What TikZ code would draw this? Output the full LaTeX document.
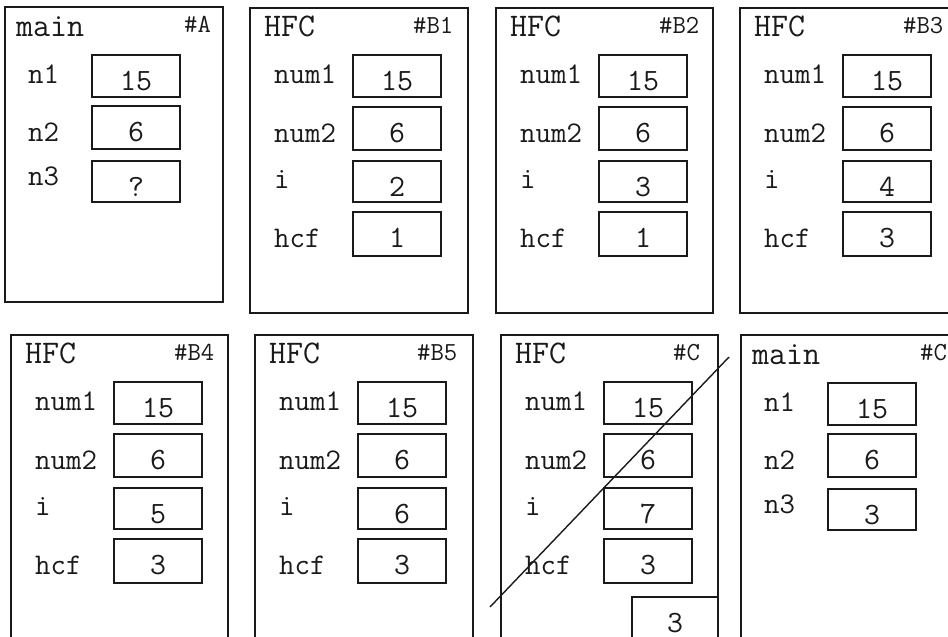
\documentclass[tikz,border=0pt]{standalone}
\usepackage{fontspec}
\definecolor{ink}{HTML}{1A1A1A}
\tikzset{
  framel/.style={draw=ink, line width=1.6pt},
  cell/.style={draw=ink, line width=1.5pt, anchor=north west, minimum width=88pt,
               inner sep=0pt, outer sep=0pt},
  head/.style={anchor=base west, inner sep=0pt, text=ink, font=\fontsize{33}{33}\selectfont\ttfamily},
  tag/.style={anchor=base west, inner sep=0pt, text=ink, font=\fontsize{26}{26}\selectfont\ttfamily},
  lbl/.style={anchor=base west, inner sep=0pt, text=ink, font=\fontsize{30}{30}\selectfont\ttfamily},
  val/.style={anchor=base, inner sep=0pt, text=ink, font=\fontsize{31}{31}\selectfont\ttfamily},
}
% one variable: name, label x, box x, box top, box height, label, label baseline offset, value
\newcommand\varcell[8]{%
  \node[cell, minimum height=#5pt] (#1) at (#3,#4) {};
  \node[lbl] (#1-l) at (#2,#4+#7) {#6};
  \node[val] (#1-v) at ([yshift=-35pt]#1.north) {#8};
}
% an HFC stack frame: id, left, top, right, bottom, tag, tag x, i, hcf
\newcommand\hfcframe[9]{%
  \draw[framel] (#2,#3) rectangle (#4,#5);
  \node[head] (#1-h) at (#2+14,#3+28) {HFC};
  \node[tag] (#1-t) at (#7,#3+25) {#6};
  \varcell{#1-a}{#2+24}{#2+103}{#3+47}{42}{num1}{28}{15}
  \varcell{#1-b}{#2+24}{#2+103}{#3+99}{43}{num2}{35}{6}
  \varcell{#1-c}{#2+24}{#2+103}{#3+153}{41}{i}{27}{#8}
  \varcell{#1-d}{#2+24}{#2+103}{#3+204}{44}{hcf}{35}{#9}
}
% a main frame: id, left, top, right, bottom, tag, tag x, n3
\newcommand\mainframe[8]{%
  \draw[framel] (#2,#3) rectangle (#4,#5);
  \node[head] (#1-h) at (#2+11,#3+29) {main};
  \node[tag] (#1-t) at (#7,#3+25) {#6};
  \varcell{#1-a}{#2+23}{#2+87}{#3+48}{42}{n1}{28}{15}
  \varcell{#1-b}{#2+23}{#2+87}{#3+99}{43}{n2}{35}{6}
  \varcell{#1-c}{#2+23}{#2+87}{#3+154}{41}{n3}{24}{#8}
}
\begin{document}
\begin{tikzpicture}[x=1pt,y=-1pt]
  \useasboundingbox (0,0) rectangle (948,637);
  \clip (0,0) rectangle (948,637);
  \fill[white] (0,0) rectangle (948,637);

  % top row
  \mainframe{A}{5}{7}{223}{302}{\#A}{184}{?}
  \hfcframe{B1}{250}{8}{468}{313}{\#B1}{413}{2}{1}
  \hfcframe{B2}{496}{8}{713}{313}{\#B2}{659}{3}{1}
  \hfcframe{B3}{740}{8}{962}{313}{\#B3}{903}{4}{3}

  % bottom row
  \hfcframe{B4}{11}{335}{228}{660}{\#B4}{174}{5}{3}
  \hfcframe{B5}{255}{335}{473}{660}{\#B5}{417}{6}{3}
  \hfcframe{C}{501}{335}{718}{660}{\#C}{673}{7}{3}
  \mainframe{M}{741}{335}{965}{660}{\#C}{920}{3}

  % returned value below the finished frame
  \node[cell, minimum width=86pt, minimum height=60pt] (ret) at (632,597) {};
  \node[val] (ret-v) at (675,632) {3};

  % the finished frame is struck out
  \coordinate (strikeA) at (490,607);
  \coordinate (strikeB) at (729,357);
  \draw[ink, line width=1.4pt] (strikeA) -- (strikeB);
\end{tikzpicture}
\end{document}
